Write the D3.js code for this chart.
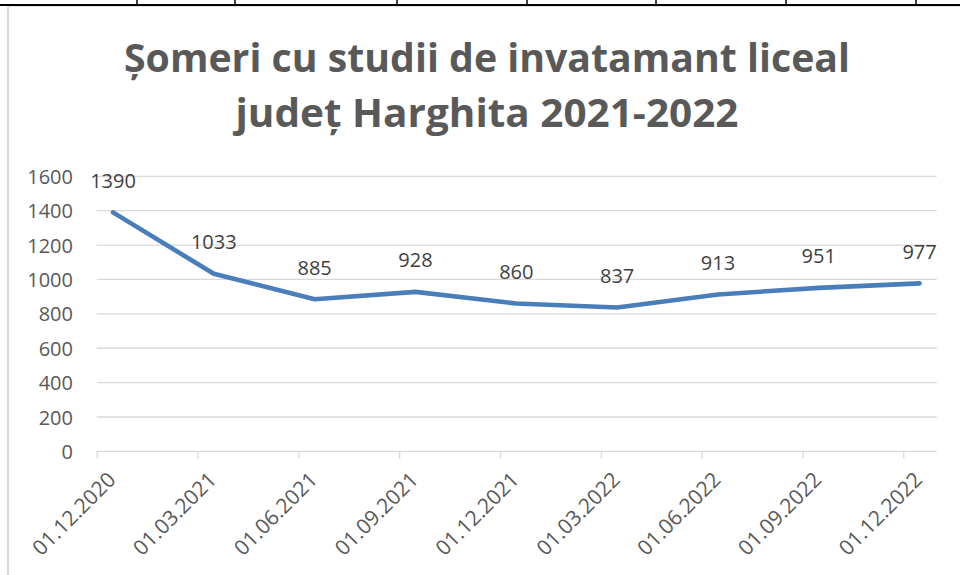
<!DOCTYPE html>
<html>
<head>
<meta charset="utf-8">
<script src="https://cdn.jsdelivr.net/npm/d3@7"></script>
<style>
  html, body { margin: 0; padding: 0; background: #ffffff; }
  svg { display: block; font-family: "Open Sans", "Liberation Sans", sans-serif; }
</style>
</head>
<body>
<svg id="chart" width="960" height="575"></svg>
<script>
// ---- data ----
const titleLines = ["Șomeri cu studii de invatamant liceal", "județ Harghita 2021-2022"];
const categories = ["01.12.2020", "01.03.2021", "01.06.2021", "01.09.2021", "01.12.2021",
                    "01.03.2022", "01.06.2022", "01.09.2022", "01.12.2022"];
const values = [1390, 1033, 885, 928, 860, 837, 913, 951, 977];
const yTicks = [0, 200, 400, 600, 800, 1000, 1200, 1400, 1600];

// ---- layout ----
const W = 960, H = 575;
const plot = { left: 96.7, right: 936.7, top: 176.3, bottom: 451.4 };
const pointOffset = 16.3; // points sit to the right of the tick marks

const svg = d3.select("#chart");
svg.append("rect").attr("width", W).attr("height", H).attr("fill", "#ffffff");

// page decoration: table border above the chart
svg.append("line").attr("x1", 0).attr("x2", W).attr("y1", 5).attr("y2", 5)
  .attr("stroke", "#000").attr("stroke-width", 2);
[137, 235, 397, 527, 656, 786, 916].forEach(x => {
  svg.append("line").attr("x1", x).attr("x2", x).attr("y1", 0).attr("y2", 5)
    .attr("stroke", "#000").attr("stroke-width", 1.5);
});
// chart frame (left + top edges visible)
svg.append("line").attr("x1", 8).attr("x2", 8).attr("y1", 6).attr("y2", H)
  .attr("stroke", "#d9d9d9").attr("stroke-width", 2);
svg.append("line").attr("x1", 7).attr("x2", W).attr("y1", 6.5).attr("y2", 6.5)
  .attr("stroke", "#e6e6e6").attr("stroke-width", 1);

// ---- scales ----
const y = d3.scaleLinear().domain([0, 1600]).range([plot.bottom, plot.top]);
const step = (plot.right - plot.left - 33.4) / (categories.length - 1);
const xTick = d3.scalePoint().domain(categories)
  .range([plot.left, plot.left + step * (categories.length - 1)]);
const x = d => xTick(d) + pointOffset;

// ---- gridlines ----
svg.append("g").selectAll("line").data(yTicks.filter(t => t > 0)).join("line")
  .attr("x1", plot.left).attr("x2", plot.right)
  .attr("y1", d => y(d)).attr("y2", d => y(d))
  .attr("stroke", "#d9d9d9").attr("stroke-width", 1.3);

// ---- y axis labels ----
const yAxis = d3.axisLeft(y).tickValues(yTicks).tickSize(0).tickPadding(0)
  .tickFormat(d3.format("d"));
const gy = svg.append("g").attr("transform", `translate(73,0)`).call(yAxis);
gy.select(".domain").remove();
gy.selectAll("text").attr("font-size", 20).attr("fill", "#595959")
  .attr("font-family", "'Open Sans', sans-serif").attr("dy", "0.35em");

// ---- x axis ----
const xAxis = d3.axisBottom(xTick).tickSize(7).tickFormat("");
const gx = svg.append("g").attr("transform", `translate(0,${plot.bottom})`).call(xAxis);
gx.select(".domain").attr("d", `M${plot.left},0H${plot.right}`)
  .attr("stroke", "#d9d9d9").attr("stroke-width", 1.3);
gx.selectAll(".tick line").attr("stroke", "#d9d9d9").attr("stroke-width", 1.3);

svg.append("g").selectAll("text").data(categories).join("text")
  .attr("transform", d => `translate(${x(d) + 4},${481}) rotate(-45)`)
  .attr("text-anchor", "end")
  .attr("font-size", 21)
  .attr("fill", "#595959")
  .text(d => d);

// ---- line ----
const line = d3.line().x((d, i) => x(categories[i])).y(d => y(d));
svg.append("path").datum(values)
  .attr("d", line)
  .attr("fill", "none")
  .attr("stroke", "#4a7ebb")
  .attr("stroke-width", 4.6)
  .attr("stroke-linejoin", "round")
  .attr("stroke-linecap", "round");

// ---- data labels ----
svg.append("g").selectAll("text").data(values).join("text")
  .attr("x", (d, i) => x(categories[i]))
  .attr("y", d => y(d) - 24.5)
  .attr("text-anchor", "middle")
  .attr("font-size", 20)
  .attr("fill", "#404040")
  .text(d => d);

// ---- title ----
const titleBaselines = [71.7, 126.7];
const titleWidths = [726, 503];
titleLines.forEach((t, i) => {
  const el = svg.append("text")
    .attr("x", 487).attr("y", titleBaselines[i])
    .attr("text-anchor", "middle")
    .attr("font-size", 40)
    .attr("font-weight", "bold")
    .attr("fill", "#595959")
    .text(t);
  el.attr("textLength", titleWidths[i]).attr("lengthAdjust", "spacingAndGlyphs");
});
</script>
</body>
</html>
